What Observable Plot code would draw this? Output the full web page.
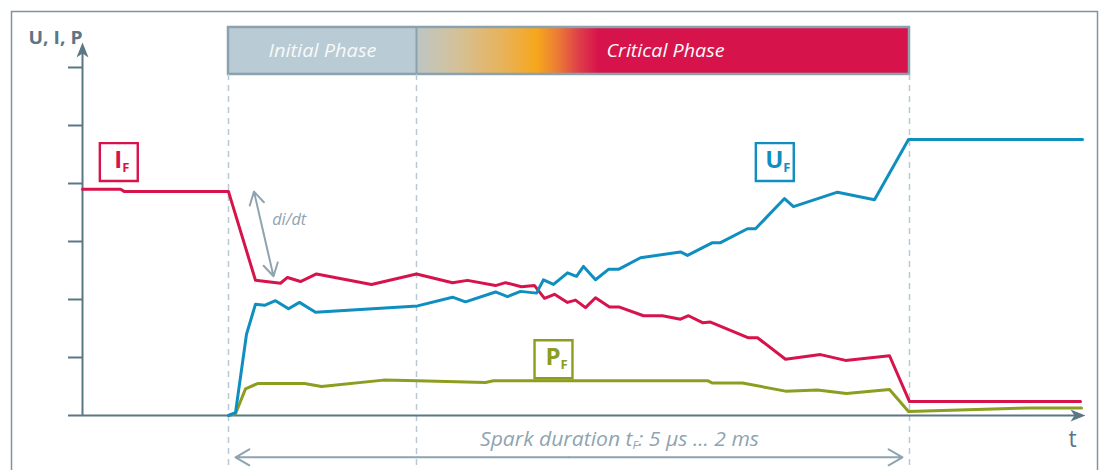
<!DOCTYPE html>
<html><head><meta charset="utf-8">
<script src="https://cdn.jsdelivr.net/npm/d3@7"></script>
<script src="https://cdn.jsdelivr.net/npm/@observablehq/plot@0.6"></script>
<style>
html,body{margin:0;padding:0;background:#fff;}
#chart{position:relative;width:1108px;height:470px;overflow:hidden;}
svg{display:block;}
</style></head><body><div id="chart"></div>
<script>
// ---- data (time in arbitrary units, value in arbitrary units) ----
const currentT = [0, 3.8, 4.2, 14.6, 17.3, 19.8, 20.5, 21.8, 23.4, 28.9, 33.4, 37.0, 38.5, 41.3, 42.3, 43.9, 45.2, 46.2, 47.2, 48.5, 49.3, 50.3, 51.3, 52.7, 53.7, 56.1, 58.0, 59.8, 60.6, 62.0, 62.8, 66.6, 67.5, 70.3, 73.8, 76.3, 80.7, 82.7, 99.8];
const currentV = [3.90, 3.90, 3.86, 3.86, 2.33, 2.28, 2.38, 2.31, 2.44, 2.26, 2.44, 2.29, 2.33, 2.24, 2.29, 2.22, 2.24, 2.02, 2.09, 1.95, 1.99, 1.86, 2.03, 1.87, 1.87, 1.72, 1.72, 1.66, 1.72, 1.60, 1.61, 1.34, 1.34, 0.97, 1.05, 0.95, 1.03, 0.24, 0.24];
const voltageT = [14.6, 15.3, 16.4, 17.3, 18.2, 19.3, 20.6, 21.7, 23.3, 33.5, 37.0, 38.3, 41.3, 42.5, 43.8, 45.4, 46.1, 47.1, 48.5, 49.4, 50.1, 51.3, 52.6, 53.6, 55.8, 59.8, 60.5, 63.0, 63.8, 66.5, 67.3, 70.2, 71.1, 75.5, 79.2, 82.6, 100];
const voltageV = [0, 0.05, 1.40, 1.92, 1.90, 1.98, 1.84, 1.95, 1.78, 1.89, 2.04, 1.96, 2.13, 2.05, 2.14, 2.11, 2.34, 2.26, 2.46, 2.40, 2.57, 2.34, 2.52, 2.52, 2.72, 2.82, 2.76, 2.98, 2.98, 3.22, 3.22, 3.74, 3.60, 3.85, 3.72, 4.76, 4.76];
const powerT = [14.6, 15.3, 16.3, 17.5, 22.2, 23.9, 30.1, 33.5, 40.3, 41.1, 62.5, 63.0, 66.0, 70.3, 73.5, 76.4, 80.7, 82.6, 94.8, 99.9];
const powerV = [0, 0.03, 0.46, 0.55, 0.55, 0.50, 0.61, 0.60, 0.57, 0.60, 0.60, 0.56, 0.56, 0.42, 0.44, 0.38, 0.45, 0.07, 0.13, 0.13];

const phaseBounds = [14.6, 33.4, 82.7];      // spark start, end of initial phase, spark end
const phaseNames = ["Initial Phase", "Critical Phase"];
const phaseLabelT = [24.0, 58.3];
const yTicks = [1, 2, 3, 4, 5, 6];

const seriesNames = ["I_F", "U_F", "P_F"];
const seriesLabelT = [3.63, 69.23, 47.1];
const seriesLabelV = [4.37, 4.37, 0.97];

const yAxisTitle = "U, I, P";
const xAxisTitle = "t";
const slopeLabel = "di/dt";
const durationLabel = "Spark duration t_F: 5 µs ... 2 ms";

// ---- styling ----
const RED = "#d7134b", BLUE = "#0f8ec0", GREEN = "#8c9d1f";
const SLATE = "#5b7684", GREYBLUE = "#8fa4b1", DASH = "#b9c9d3";
const BAR_LO = 5.88, BAR_HI = 6.69;

const zip = (T, V) => T.map((t, i) => ({t, v: V[i]}));
const current = zip(currentT, currentV);
const voltage = zip(voltageT, voltageV);
const power = zip(powerT, powerV);
const seriesColors = [RED, BLUE, GREEN];
const labels = seriesNames.map((name, i) => ({name, t: seriesLabelT[i], v: seriesLabelV[i], c: seriesColors[i]}));
const phases = phaseNames.map((name, i) => ({name, x1: phaseBounds[i], x2: phaseBounds[i + 1], t: phaseLabelT[i]}));

const arrowUp = {draw(ctx) { ctx.moveTo(0, 0); ctx.lineTo(6, 15); ctx.lineTo(0, 11); ctx.lineTo(-6, 15); ctx.closePath(); }};
const arrowRight = {draw(ctx) { ctx.moveTo(0, 0); ctx.lineTo(-15, 6); ctx.lineTo(-11, 0); ctx.lineTo(-15, -6); ctx.closePath(); }};

const spanMid = (phaseBounds[0] + phaseBounds[2]) / 2;
const slopeA = {t: 17.15, v: 3.86}, slopeB = {t: 19.1, v: 2.40};
const slopeMid = {t: (slopeA.t + slopeB.t) / 2, v: (slopeA.v + slopeB.v) / 2};
const SPAN_V = -0.72;

const chart = Plot.plot({
  width: 1108, height: 470,
  marginLeft: 82, marginRight: 26, marginTop: 67, marginBottom: 55,
  x: {domain: [0, 100], axis: null},
  y: {domain: [0, 6], axis: null},
  style: {background: "transparent", overflow: "visible"},
  marks: [
    // phase bar
    Plot.rect(phases, {x1: "x1", x2: "x2", y1: BAR_LO, y2: BAR_HI,
      fill: (d, i) => i === 0 ? "#b9cbd4" : "url(#critGrad)"}),
    Plot.rect([phaseBounds], {x1: d => d[0], x2: d => d[2], y1: BAR_LO, y2: BAR_HI, fill: "none", stroke: "#8ba1ae", strokeWidth: 2.5}),
    Plot.ruleX([phaseBounds[1]], {y1: BAR_LO, y2: BAR_HI, stroke: "#8ba1ae", strokeWidth: 2}),
    Plot.text(phases, {x: "t", y: 6.18, text: "name", lineAnchor: "bottom", fill: "#f7f9fa",
      fontSize: 19, fontStyle: "italic", fontFamily: "Open Sans, sans-serif"}),
    // dashed guides
    Plot.ruleX(phaseBounds, {y1: BAR_LO, y2: -1.0, stroke: DASH, strokeWidth: 1.5, strokeDasharray: "6,5"}),
    // axes
    Plot.axisY({ticks: yTicks, tickSize: 14, tickFormat: () => "", label: null, stroke: SLATE, strokeWidth: 2}),
    Plot.ruleX([0], {y1: 0, y2: 6.3, stroke: SLATE, strokeWidth: 2}),
    Plot.ruleY([0], {insetLeft: -14, stroke: SLATE, strokeWidth: 2}),
    Plot.dot([0], {x: 0, y: 6.43, symbol: arrowUp, fill: SLATE, stroke: "none"}),
    Plot.dot([0], {x: 100.3, y: 0, symbol: arrowRight, fill: SLATE, stroke: "none"}),
    Plot.text([yAxisTitle], {x: -5.4, y: 6.41, text: d => d, textAnchor: "start", lineAnchor: "bottom", fill: SLATE,
      fontSize: 18, fontWeight: "bold", fontFamily: "Open Sans, sans-serif"}),
    Plot.text([xAxisTitle], {x: 99.0, y: -0.55, text: d => d, lineAnchor: "bottom", fill: SLATE,
      fontSize: 23, fontFamily: "Open Sans, sans-serif"}),
    // series
    Plot.line(power, {x: "t", y: "v", stroke: GREEN, strokeWidth: 3}),
    Plot.line(current, {x: "t", y: "v", stroke: RED, strokeWidth: 3}),
    Plot.line(voltage, {x: "t", y: "v", stroke: BLUE, strokeWidth: 3}),
    // series label boxes
    Plot.dot(labels, {x: "t", y: "v", symbol: "square", r: 21.4, stroke: "c", fill: "white", strokeWidth: 2.4}),
    Plot.text(labels, {x: "t", y: "v", text: "name", fill: "c", dx: 3, dy: -1.5, fontSize: 24, fontWeight: "bold",
      fontFamily: "Open Sans, sans-serif"}),
    // di/dt
    Plot.arrow([slopeA, slopeB], {x1: slopeMid.t, y1: slopeMid.v, x2: "t", y2: "v", stroke: GREYBLUE, strokeWidth: 2, headLength: 11}),
    Plot.text([slopeLabel], {x: 18.97, y: 3.29, text: d => d, textAnchor: "start", lineAnchor: "bottom", fill: GREYBLUE,
      fontSize: 17, fontStyle: "italic", fontFamily: "Open Sans, sans-serif"}),
    // spark duration
    Plot.arrow([phaseBounds[0], phaseBounds[2]], {x1: spanMid, y1: SPAN_V, x2: d => d, y2: SPAN_V, insetEnd: 7,
      stroke: GREYBLUE, strokeWidth: 2, headLength: 12}),
    Plot.text([durationLabel], {x: 53.7, y: -0.52, text: d => d, lineAnchor: "bottom", fill: GREYBLUE,
      fontSize: 20, fontStyle: "italic", fontFamily: "Open Sans, sans-serif"})
  ]
});

// gradient for critical phase
const svg = d3.select(chart);
const grad = svg.insert("defs", ":first-child").append("linearGradient").attr("id", "critGrad").attr("x1", 0).attr("x2", 1).attr("y1", 0).attr("y2", 0);
[[0, "#bcc6c5"], [0.08, "#d3c19b"], [0.18, "#e9b257"], [0.245, "#f6a71c"], [0.29, "#eb7837"], [0.33, "#de3f48"], [0.37, RED], [1, RED]]
  .forEach(([o, c]) => grad.append("stop").attr("offset", o).attr("stop-color", c));

// subscripts and condensed widths
const textLengths = {"Initial Phase": 108, "Critical Phase": 118, "di/dt": 34, "U, I, P": 54};
textLengths[durationLabel.replace("_F", "F")] = 279;
svg.selectAll("text").each(function () {
  const s = this.textContent;
  const el = d3.select(this);
  const parts = s.split("_F");
  if (parts.length === 2) {
    const isLabel = parts[1] === "";
    const shift = isLabel ? 4 : 3;
    el.text(null);
    el.append("tspan").text(parts[0]);
    el.append("tspan").attr("font-size", isLabel ? 13 : 11).attr("dy", shift).text("F");
    if (parts[1]) el.append("tspan").attr("dy", -shift).text(parts[1]);
  }
  const full = this.textContent;
  if (textLengths[full]) el.attr("textLength", textLengths[full]).attr("lengthAdjust", "spacingAndGlyphs");
});

// outer frame
svg.append("rect").attr("x", 11.5).attr("y", 11.5).attr("width", 1086).attr("height", 520)
  .attr("fill", "none").attr("stroke", "#7d95a2").attr("stroke-width", 1.5);

document.getElementById("chart").appendChild(chart);
</script>
</body></html>
